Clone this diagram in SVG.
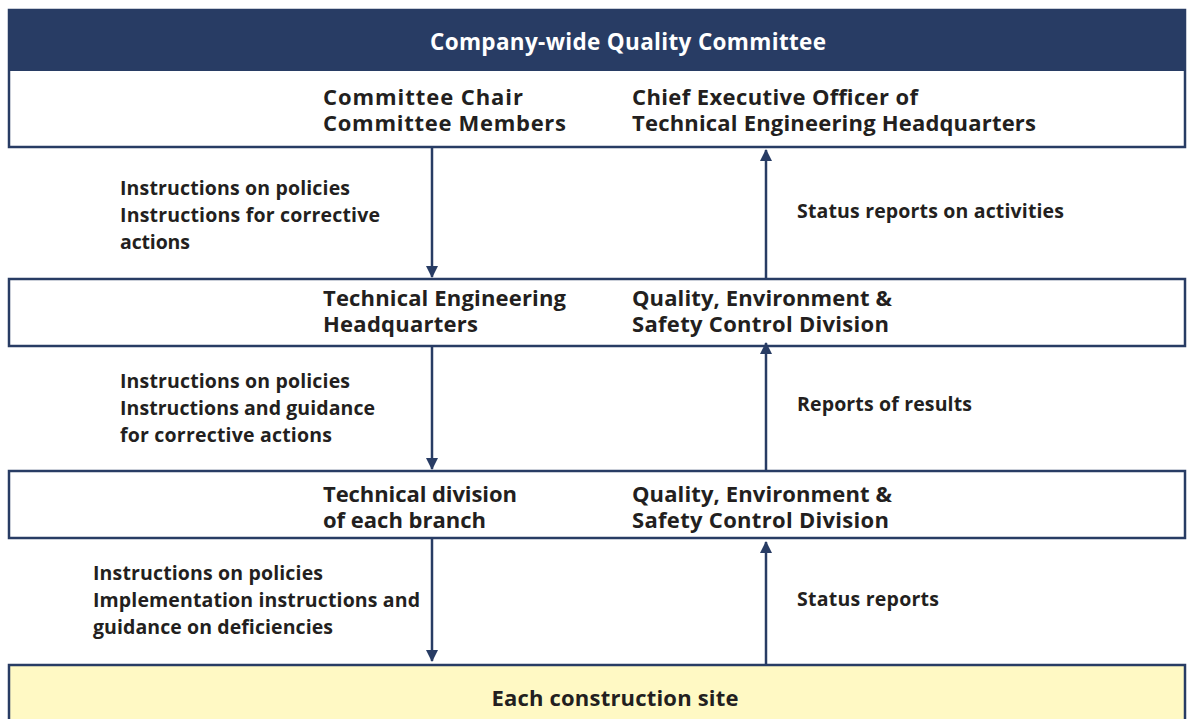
<svg xmlns="http://www.w3.org/2000/svg" width="1188" height="719" viewBox="0 0 1188 719">
<defs>
<style>
.box{fill:#fff;stroke:#283c64;stroke-width:2.5}
.t{font-family:"Open Sans",Lato,sans-serif;font-weight:bold;fill:#231f20}
.n{font-size:22px}
.l{font-size:19.5px}
.c{stroke:#283c64;stroke-width:2.5;fill:none}
</style>
<marker id="ah" viewBox="0 0 12 12" refX="11" refY="6" markerWidth="12" markerHeight="12" markerUnits="userSpaceOnUse" orient="auto">
<path d="M0,0 L12,6 L0,12 z" fill="#283c64"/>
</marker>
</defs>
<rect width="1188" height="719" fill="#fff"/>
<g id="committee">
<rect class="box" x="9" y="10" width="1176" height="137"/>
<rect x="8" y="9" width="1178" height="62" fill="#283c64"/>
<text class="t" x="628" y="50" text-anchor="middle" font-size="22.5" style="fill:#fff" textLength="396">Company-wide Quality Committee</text>
<text class="t n"><tspan x="323" y="105" textLength="200">Committee Chair</tspan><tspan x="323" y="131" textLength="243">Committee Members</tspan></text>
<text class="t n"><tspan x="632" y="105" textLength="286">Chief Executive Officer of</tspan><tspan x="632" y="131" textLength="404">Technical Engineering Headquarters</tspan></text>
</g>
<g id="hq">
<rect class="box" x="9" y="279" width="1176" height="67"/>
<text class="t n"><tspan x="323" y="306" textLength="243">Technical Engineering</tspan><tspan x="323" y="332" textLength="155">Headquarters</tspan></text>
<text class="t n"><tspan x="632" y="306" textLength="260">Quality, Environment &amp;</tspan><tspan x="632" y="332" textLength="257">Safety Control Division</tspan></text>
</g>
<g id="branch">
<rect class="box" x="9" y="471" width="1176" height="67"/>
<text class="t n"><tspan x="323" y="502" textLength="194">Technical division</tspan><tspan x="323" y="528" textLength="163">of each branch</tspan></text>
<text class="t n"><tspan x="632" y="502" textLength="260">Quality, Environment &amp;</tspan><tspan x="632" y="528" textLength="257">Safety Control Division</tspan></text>
</g>
<g id="site">
<rect x="9" y="665" width="1176" height="60" fill="#fff9c4" stroke="#283c64" stroke-width="2.5"/>
<text class="t n" x="615" y="706" text-anchor="middle" textLength="247">Each construction site</text>
</g>
<g id="connectors">
<line class="c" x1="432" y1="147" x2="432" y2="277" marker-end="url(#ah)"/>
<line class="c" x1="766" y1="279" x2="766" y2="150" marker-end="url(#ah)"/>
<line class="c" x1="432" y1="346" x2="432" y2="469" marker-end="url(#ah)"/>
<line class="c" x1="766" y1="471" x2="766" y2="343" marker-end="url(#ah)"/>
<line class="c" x1="432" y1="538" x2="432" y2="661" marker-end="url(#ah)"/>
<line class="c" x1="766" y1="665" x2="766" y2="542" marker-end="url(#ah)"/>
</g>
<g id="labels">
<text class="t l" x="120" y="195" textLength="230">Instructions on policies</text>
<text class="t l" x="120" y="222" textLength="260">Instructions for corrective</text>
<text class="t l" x="120" y="249" textLength="70">actions</text>
<text class="t l" x="797" y="218" textLength="267">Status reports on activities</text>
<text class="t l" x="120" y="388" textLength="230">Instructions on policies</text>
<text class="t l" x="120" y="415" textLength="255">Instructions and guidance</text>
<text class="t l" x="120" y="442" textLength="212">for corrective actions</text>
<text class="t l" x="797" y="411" textLength="175">Reports of results</text>
<text class="t l" x="93" y="580" textLength="230">Instructions on policies</text>
<text class="t l" x="93" y="607" textLength="327">Implementation instructions and</text>
<text class="t l" x="93" y="634" textLength="240">guidance on deficiencies</text>
<text class="t l" x="797" y="606" textLength="142">Status reports</text>
</g>
</svg>
